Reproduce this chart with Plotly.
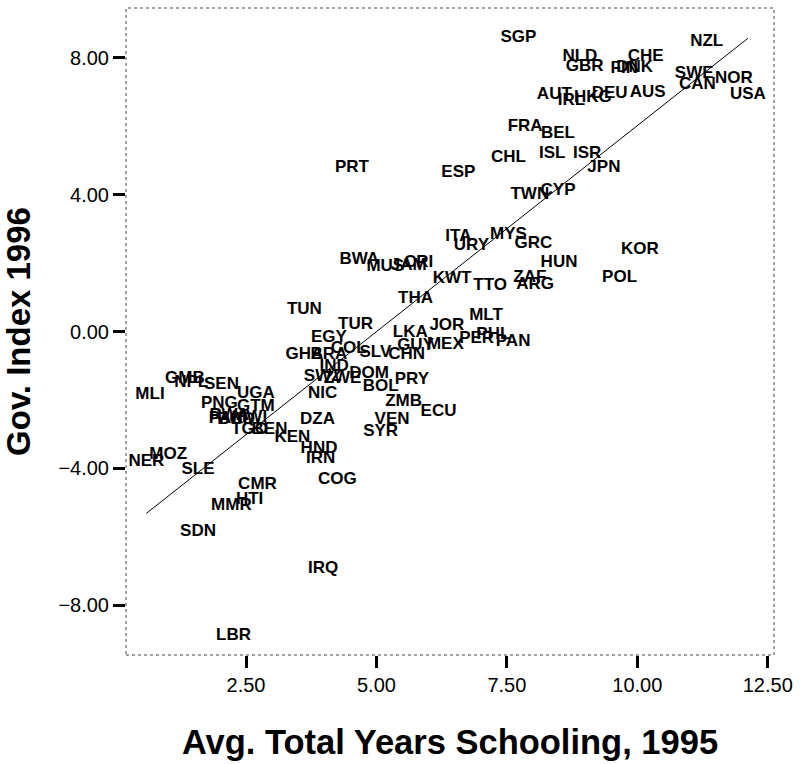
import plotly.graph_objects as go

codes = ["SGP","NZL","NLD","CHE","GBR","FIN","DNK","SWE","NOR","CAN","USA","AUT","IRL","HKG","DEU","AUS",
         "FRA","BEL","CHL","ISL","ISR","JPN","TWN","CYP","PRT","ESP","ITA","URY","MYS","GRC","HUN","KOR",
         "POL","KWT","TTO","ZAF","ARG","THA","MLT","JOR","LKA","PHL","PER","PAN","MEX","GUY","CHN","BWA",
         "CRI","MUS","JAM","TUN","TUR","EGY","GHA","BRA","COL","SLV","IND","SWZ","ZWE","DOM","BOL","PRY",
         "ZMB","ECU","VEN","SYR","NIC","DZA","HND","IRN","KEN","TGO","BEN","MLI","GMB","NPL","SEN","UGA",
         "PNG","GTM","PAK","BGD","RWA","MWI","MOZ","NER","SLE","CMR","HTI","MMR","COG","SDN","IRQ","LBR"]

schooling = [7.72,11.33,8.90,10.16,8.99,9.75,9.95,11.09,11.85,11.15,12.12,8.41,8.74,9.15,9.47,10.20,
             7.85,8.48,7.53,8.37,9.04,9.36,7.94,8.48,4.53,6.57,6.57,6.82,7.53,8.01,8.50,10.05,
             9.66,6.45,7.18,7.94,8.04,5.75,7.10,6.35,5.65,7.24,6.92,7.62,6.32,5.75,5.58,4.67,
             5.81,5.17,5.62,3.62,4.60,4.09,3.62,4.09,4.47,4.98,4.19,3.97,4.35,4.86,5.08,5.68,
             5.52,6.19,5.30,5.08,3.97,3.87,3.90,3.93,3.39,2.57,2.95,0.66,1.33,1.45,2.03,2.69,
             1.99,2.69,2.12,2.31,2.18,2.57,1.01,0.59,1.58,2.72,2.57,2.22,4.25,1.58,3.98,2.26]

gov_index = [8.58,8.46,8.02,8.04,7.73,7.67,7.70,7.53,7.40,7.21,6.92,6.92,6.75,6.85,6.96,6.98,
             5.99,5.77,5.09,5.19,5.19,4.80,3.99,4.12,4.78,4.63,2.77,2.50,2.82,2.58,2.01,2.40,
             1.58,1.53,1.33,1.56,1.36,0.97,0.45,0.16,-0.05,-0.10,-0.20,-0.30,-0.39,-0.42,-0.69,2.09,
             2.02,1.89,1.92,0.65,0.21,-0.17,-0.69,-0.69,-0.49,-0.62,-1.03,-1.32,-1.37,-1.24,-1.61,-1.40,
             -2.05,-2.35,-2.59,-2.93,-1.81,-2.57,-3.42,-3.71,-3.12,-2.88,-2.88,-1.86,-1.37,-1.51,-1.56,-1.81,
             -2.10,-2.20,-2.54,-2.57,-2.47,-2.51,-3.61,-3.81,-4.05,-4.49,-4.91,-5.10,-4.34,-5.85,-6.94,-8.90]

fit_intercept = -6.03
fit_slope = 1.205

x_ticks = [2.5, 5.0, 7.5, 10.0, 12.5]
y_ticks = [-8.0, -4.0, 0.0, 4.0, 8.0]

xmin, xmax = min(schooling), max(schooling)
fit_x = [xmin, xmax]
fit_y = [fit_intercept + fit_slope * v for v in fit_x]

fig = go.Figure()
fig.add_trace(go.Scatter(x=fit_x, y=fit_y, mode="lines",
                         line=dict(color="black", width=1), hoverinfo="skip", showlegend=False))
fig.add_trace(go.Scatter(x=schooling, y=gov_index, mode="text", text=codes,
                         textposition="middle center",
                         textfont=dict(family="Liberation Sans", size=17, color="black", weight="bold"),
                         showlegend=False, cliponaxis=False))

axis_common = dict(showgrid=False, zeroline=False, showline=False,
                   ticks="outside", ticklen=12, tickwidth=3, tickcolor="black",
                   tickfont=dict(family="Liberation Sans", size=20, color="black"),
                   tickformat=".2f")

fig.update_xaxes(range=[0.2, 12.62], tickvals=x_ticks, **axis_common,
                 title=dict(text="<b>Avg. Total Years Schooling, 1995</b>",
                            font=dict(family="Liberation Sans", size=34.5, color="black"),
                            standoff=34))
fig.update_yaxes(range=[-9.46, 9.46], tickvals=y_ticks, **axis_common,
                 title=dict(text="<b>Gov. Index 1996</b>",
                            font=dict(family="Liberation Sans", size=33, color="black"),
                            standoff=18))

fig.add_shape(type="rect", xref="paper", yref="paper", x0=0, y0=0, x1=1, y1=1,
              line=dict(color="#444444", width=1, dash="dot"))

fig.update_layout(width=801, height=764, margin=dict(l=126, r=24, t=8, b=109),
                  paper_bgcolor="white", plot_bgcolor="white")

fig.write_html("out.html")
